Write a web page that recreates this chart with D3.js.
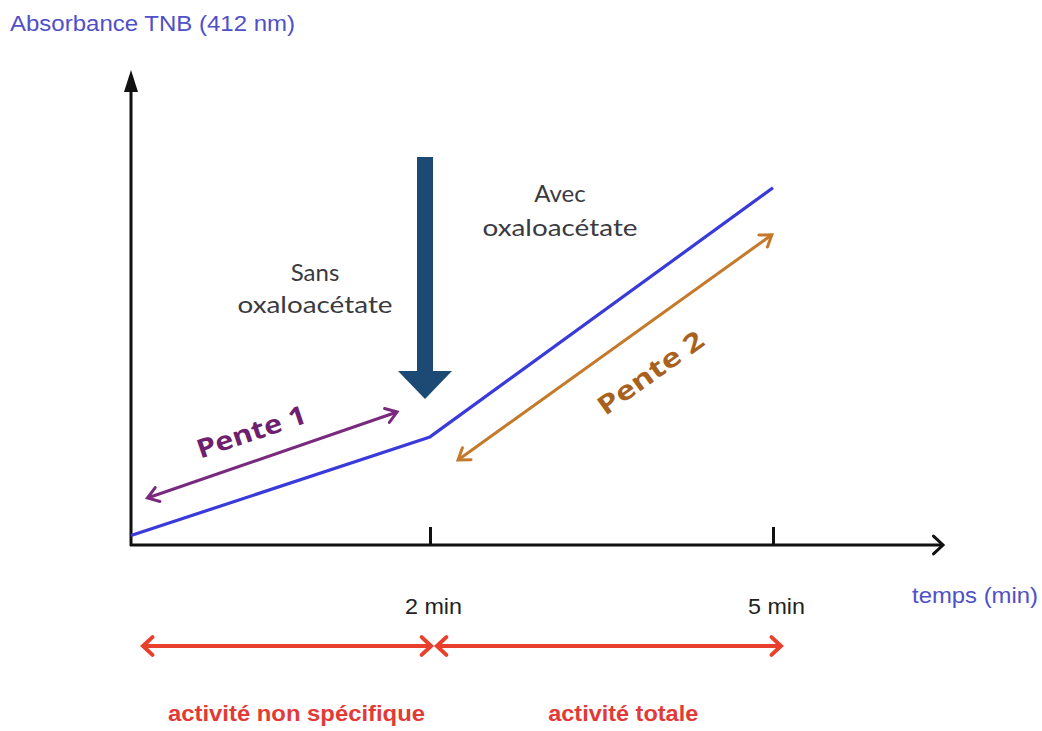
<!DOCTYPE html>
<html><head><meta charset="utf-8">
<script src="https://cdn.jsdelivr.net/npm/d3@7"></script>
<style>body{margin:0;background:#fff}svg{display:block}</style>
</head><body>
<svg id="c" width="1042" height="731"></svg>
<script>
// ---- data ----
const times = [0, 2, 5];                 // min
const absorbance = [0.02, 0.23, 0.76];   // arbitrary units (schematic)
const tickValues = [2, 5];
const tickLabels = ["2 min", "5 min"];
const pente1 = [[0.11, 0.10], [1.78, 0.283]];
const pente2 = [[2.245, 0.181], [4.99, 0.66]];
const phaseFrom = [0.08, 2.06];
const phaseTo = [2.01, 5.07];
const phaseLabelAt = [1.107, 3.69];
const phaseLabels = ["activité non spécifique", "activité totale"];
const addTime = 2;

const svg = d3.select("#c");
// polylinear schematic time scale (as drawn)
const x = d3.scaleLinear().domain([0, 2, 5]).range([131, 430, 773]);
const y = d3.scaleLinear().domain([0, 1]).range([545, 75]);

function chevron(g, px, py, ang, len, spread, color, w) {
  const a1 = ang + Math.PI - spread, a2 = ang + Math.PI + spread;
  g.append("path")
    .attr("d", `M${px + len*Math.cos(a1)},${py + len*Math.sin(a1)}L${px},${py}L${px + len*Math.cos(a2)},${py + len*Math.sin(a2)}`)
    .attr("fill", "none").attr("stroke", color).attr("stroke-width", w)
    .attr("stroke-linecap", "round").attr("stroke-linejoin", "miter");
}
function dblArrow(p0, p1, color, w, len, spread) {
  const g = svg.append("g");
  g.append("line").attr("x1", p0[0]).attr("y1", p0[1]).attr("x2", p1[0]).attr("y2", p1[1])
    .attr("stroke", color).attr("stroke-width", w);
  const ang = Math.atan2(p1[1] - p0[1], p1[0] - p0[0]);
  chevron(g, p1[0], p1[1], ang, len, spread, color, w);
  chevron(g, p0[0], p0[1], ang + Math.PI, len, spread, color, w);
}

// axes
const x0 = x(0), y0 = y(0);
svg.append("line").attr("x1", x0).attr("y1", y0 + 1).attr("x2", x0).attr("y2", 88)
  .attr("stroke", "#111").attr("stroke-width", 3);
svg.append("path").attr("d", `M${x0},70L${x0-7},92L${x0+7},92Z`).attr("fill", "#111");
svg.append("line").attr("x1", x0 - 1).attr("y1", y0).attr("x2", 942).attr("y2", y0)
  .attr("stroke", "#111").attr("stroke-width", 3);
chevron(svg, 943, y0, 0, 13, 0.75, "#111", 3);

const ax = d3.axisBottom(x).tickValues(tickValues)
  .tickFormat((d, i) => tickLabels[i]).tickSize(-18).tickPadding(53);
const axG = svg.append("g").attr("transform", `translate(0,${y0})`).call(ax);
axG.select(".domain").remove();
axG.selectAll(".tick line").attr("stroke", "#111").attr("stroke-width", 3);
axG.selectAll(".tick text").attr("font-family", "Liberation Sans, Arial, sans-serif")
  .attr("font-size", 22).attr("fill", "#222").attr("textLength", 57).attr("lengthAdjust", "spacingAndGlyphs")
  .attr("dx", 3);

// axis titles
svg.append("text").attr("x", 10).attr("y", 31).text("Absorbance TNB (412 nm)")
  .attr("font-family", "Liberation Sans, Arial, sans-serif").attr("font-size", 22)
  .attr("fill", "#5050c8").attr("textLength", 285).attr("lengthAdjust", "spacingAndGlyphs");
svg.append("text").attr("x", 912).attr("y", 603).text("temps (min)")
  .attr("font-family", "Liberation Sans, Arial, sans-serif").attr("font-size", 22)
  .attr("fill", "#5050c8").attr("textLength", 126).attr("lengthAdjust", "spacingAndGlyphs");

// data line
const line = d3.line().x(d => x(d[0])).y(d => y(d[1]));
svg.append("path").datum(times.map((t, i) => [t, absorbance[i]]))
  .attr("d", line).attr("fill", "none").attr("stroke", "#3a3ada").attr("stroke-width", 3.2)
  .attr("stroke-linejoin", "round");

// addition arrow (oxaloacetate added)
const ax2 = x(addTime) - 5;
svg.append("rect").attr("x", ax2 - 8).attr("y", 157).attr("width", 16).attr("height", 216).attr("fill", "#1d4a74");
svg.append("path").attr("d", `M${ax2-27},371L${ax2+27},371L${ax2},399Z`).attr("fill", "#1d4a74");

// annotations
const annFont = "Lato, 'Open Sans', sans-serif";
function twoLine(cx, y1, y2, l1, l2) {
  svg.append("text").attr("x", cx).attr("y", y1).attr("text-anchor", "middle").text(l1)
    .attr("font-family", annFont).attr("font-size", 24).attr("fill", "#3a3a40");
  svg.append("text").attr("x", cx).attr("y", y2).attr("text-anchor", "middle").text(l2)
    .attr("font-family", annFont).attr("font-size", 24).attr("fill", "#3a3a40")
    .attr("textLength", 155).attr("lengthAdjust", "spacingAndGlyphs");
}
twoLine(315, 281, 313, "Sans", "oxaloacétate");
twoLine(560, 202, 236, "Avec", "oxaloacétate");

// slopes
const p1 = pente1.map(d => [x(d[0]), y(d[1])]);
const p2 = pente2.map(d => [x(d[0]), y(d[1])]);
dblArrow(p1[0], p1[1], "#7a2a7e", 3, 13, 0.6);
dblArrow(p2[0], p2[1], "#c47a2a", 3, 13, 0.6);
function slopeLabel(txt, cx, cy, ang, color, len) {
  svg.append("text").attr("transform", `translate(${cx},${cy}) rotate(${ang})`)
    .attr("text-anchor", "middle").attr("dominant-baseline", "central").text(txt)
    .attr("font-family", "'Open Sans', Lato, sans-serif").attr("font-weight", "bold")
    .attr("font-size", 26).attr("fill", color)
    .attr("textLength", len).attr("lengthAdjust", "spacingAndGlyphs");
}
slopeLabel("Pente 1", 251, 431, -18.6, "#6e1f6e", 114);
slopeLabel("Pente 2", 650, 372, -35.5, "#a8621e", 124);

// phase arrows
const phaseY = 646;
phaseLabels.forEach((lab, i) => {
  dblArrow([x(phaseFrom[i]), phaseY], [x(phaseTo[i]), phaseY], "#e8402c", 4, 13, 0.75);
  svg.append("text").attr("x", x(phaseLabelAt[i])).attr("y", 721)
    .attr("text-anchor", "middle").text(lab)
    .attr("font-family", "Liberation Sans, Arial, sans-serif").attr("font-weight", "bold")
    .attr("font-size", 22).attr("fill", "#e23a36")
    .attr("textLength", i === 0 ? 257 : 150).attr("lengthAdjust", "spacingAndGlyphs");
});
</script>
</body></html>
